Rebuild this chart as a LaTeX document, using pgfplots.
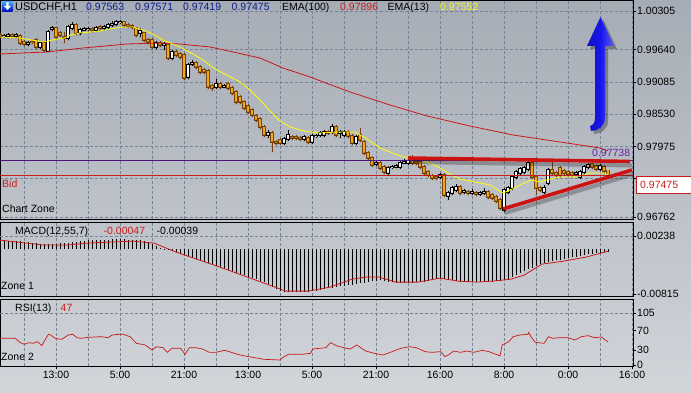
\documentclass[border=0pt]{standalone}
\usepackage{pgfplots}
\pgfplotsset{compat=1.18}
\usepackage{pgfplotstable}
\usepackage{fontspec}
\setmainfont{Liberation Sans}
\newcommand{\lf}{\fontsize{10.5}{12}\selectfont}
\definecolor{bgtop}{RGB}{166,172,181}
\definecolor{bgbot}{RGB}{210,213,218}
\definecolor{gridc}{RGB}{118,132,150}
\definecolor{cdn}{RGB}{242,168,20}
\definecolor{dnedge}{RGB}{120,66,14}
\definecolor{emaY}{RGB}{255,255,0}
\definecolor{emaR}{RGB}{200,24,24}
\definecolor{purp}{RGB}{76,20,128}
\definecolor{bidred}{RGB}{200,30,30}
\definecolor{trend}{RGB}{205,18,18}
\definecolor{ohlc}{RGB}{16,30,140}
\definecolor{arrowblue}{RGB}{22,22,238}
\definecolor{lbl}{RGB}{100,36,170}
\definecolor{ttlY}{RGB}{250,250,20}

\pgfplotsset{
  upc/.style={restrict expr to domain={\thisrow{d}}{0.5:1.5}},
  dnc/.style={restrict expr to domain={\thisrow{d}}{-0.5:0.5}},
  candle/.style={only marks, mark=*, mark size=0.01pt, mark options={draw=none, fill=none}, unbounded coords=discard},
  pane/.style={scale only axis, width=633pt, xmin=0, xmax=158.25,
    axis line style={black, line width=0.8pt},
    yticklabel pos=right, ytick pos=right, tick align=outside,
    major tick length=3pt, minor tick length=0pt,
    tick style={black, line width=0.6pt},
    ticklabel style={font=\lf},
    yticklabel style={anchor=west, inner sep=1pt},
    xtick={14,30,...,158}, minor xtick={6,22,...,150},
    xmajorgrids, xminorgrids,
    grid style={gridc, dash pattern=on 3pt off 2pt, line width=0.6pt},
    minor grid style={gridc, dash pattern=on 3pt off 2pt, line width=0.6pt},
    scaled y ticks=false, scaled x ticks=false,
  },
}

\pgfplotstableread{
i o h l c d
0 0.99892 0.99926 0.99840 0.99875 0
1 0.99875 0.99909 0.99840 0.99877 1
2 0.99875 0.99926 0.99840 0.99892 1
3 0.99892 0.99926 0.99840 0.99875 0
4 0.99875 0.99926 0.99840 0.99892 1
5 0.99875 0.99909 0.99720 0.99754 0
6 0.99772 0.99806 0.99703 0.99737 0
7 0.99737 0.99789 0.99703 0.99754 1
8 0.99772 0.99806 0.99737 0.99770 0
9 0.99806 0.99840 0.99651 0.99686 0
10 0.99686 0.99789 0.99651 0.99754 1
11 0.99754 0.99789 0.99600 0.99634 0
12 0.99617 0.99978 0.99600 0.99944 1
13 0.99995 1.00047 0.99961 1.00012 1
14 1.00012 1.00030 0.99823 0.99858 0
15 0.99926 0.99961 0.99858 0.99892 0
16 0.99858 0.99944 0.99754 0.99840 0
17 0.99840 1.00064 0.99806 1.00030 1
18 1.00012 1.00116 0.99978 1.00064 1
19 1.00064 1.00098 0.99892 0.99926 0
20 0.99926 1.00012 0.99892 0.99978 1
21 0.99978 1.00030 0.99961 0.99995 1
22 0.99995 1.00030 0.99961 0.99997 1
23 0.99995 1.00030 0.99944 0.99978 0
24 0.99978 1.00047 0.99961 1.00012 1
25 1.00030 1.00064 0.99978 1.00012 0
26 1.00012 1.00064 0.99978 1.00030 1
27 1.00030 1.00098 0.99995 1.00064 1
28 1.00064 1.00133 1.00030 1.00081 1
29 1.00081 1.00150 1.00047 1.00116 1
30 1.00116 1.00150 1.00081 1.00118 1
31 1.00116 1.00133 1.00030 1.00064 0
32 1.00064 1.00098 1.00012 1.00047 0
33 1.00047 1.00081 0.99995 1.00030 0
34 1.00012 1.00030 0.99858 0.99892 0
35 0.99926 1.00012 0.99858 0.99961 1
36 0.99926 0.99944 0.99772 0.99806 0
37 0.99806 0.99840 0.99737 0.99772 0
38 0.99806 0.99840 0.99651 0.99686 0
39 0.99686 0.99789 0.99651 0.99754 1
40 0.99754 0.99789 0.99686 0.99720 0
41 0.99720 0.99772 0.99634 0.99737 1
42 0.99720 0.99754 0.99462 0.99496 0
43 0.99496 0.99634 0.99462 0.99600 1
44 0.99600 0.99634 0.99514 0.99548 0
45 0.99565 0.99600 0.99479 0.99514 0
46 0.99548 0.99582 0.99118 0.99152 0
47 0.99170 0.99410 0.99135 0.99376 1
48 0.99393 0.99462 0.99359 0.99410 1
49 0.99410 0.99445 0.99307 0.99342 0
50 0.99342 0.99376 0.99221 0.99256 0
51 0.99290 0.99324 0.99221 0.99256 0
52 0.99273 0.99307 0.98963 0.98998 0
53 0.99015 0.99049 0.98929 0.98980 0
54 0.98998 0.99135 0.98963 0.99049 1
55 0.99049 0.99084 0.98963 0.98998 0
56 0.98998 0.99049 0.98980 0.99015 1
57 0.99049 0.99084 0.98946 0.98980 0
58 0.98980 0.99015 0.98860 0.98894 0
59 0.98912 0.98946 0.98705 0.98740 0
60 0.98826 0.98860 0.98705 0.98740 0
61 0.98740 0.98774 0.98602 0.98636 0
62 0.98671 0.98705 0.98533 0.98568 0
63 0.98602 0.98636 0.98482 0.98516 0
64 0.98499 0.98533 0.98396 0.98430 0
65 0.98447 0.98482 0.98275 0.98310 0
66 0.98310 0.98344 0.98138 0.98172 0
67 0.98172 0.98258 0.98120 0.98206 1
68 0.98206 0.98241 0.97880 0.98052 0
69 0.98052 0.98086 0.98000 0.98034 0
70 0.98086 0.98120 0.98000 0.98034 0
71 0.98034 0.98138 0.98000 0.98103 1
72 0.98103 0.98258 0.98069 0.98172 1
73 0.98138 0.98172 0.98086 0.98120 0
74 0.98138 0.98172 0.98086 0.98120 0
75 0.98120 0.98155 0.98069 0.98103 0
76 0.98103 0.98172 0.98069 0.98138 1
77 0.98120 0.98155 0.98017 0.98052 0
78 0.98052 0.98189 0.98017 0.98155 1
79 0.98155 0.98189 0.98120 0.98157 1
80 0.98172 0.98241 0.98138 0.98206 1
81 0.98172 0.98258 0.98138 0.98224 1
82 0.98224 0.98258 0.98172 0.98206 0
83 0.98224 0.98361 0.98189 0.98310 1
84 0.98310 0.98344 0.98138 0.98172 0
85 0.98206 0.98258 0.98120 0.98224 1
86 0.98172 0.98258 0.98138 0.98224 1
87 0.98224 0.98258 0.98120 0.98155 0
88 0.98155 0.98189 0.98000 0.98034 0
89 0.98034 0.98172 0.98000 0.98138 1
90 0.98172 0.98292 0.98052 0.98086 0
91 0.98052 0.98086 0.97828 0.97862 0
92 0.97862 0.97897 0.97742 0.97776 0
93 0.97776 0.97811 0.97622 0.97656 0
94 0.97673 0.97725 0.97639 0.97690 1
95 0.97690 0.97725 0.97570 0.97604 0
96 0.97622 0.97656 0.97501 0.97536 0
97 0.97518 0.97639 0.97484 0.97604 1
98 0.97622 0.97656 0.97587 0.97624 1
99 0.97622 0.97673 0.97604 0.97639 1
100 0.97622 0.97725 0.97587 0.97690 1
101 0.97690 0.97759 0.97673 0.97708 1
102 0.97690 0.97759 0.97656 0.97725 1
103 0.97776 0.97828 0.97656 0.97690 0
104 0.97708 0.97742 0.97656 0.97690 0
105 0.97708 0.97742 0.97587 0.97622 0
106 0.97622 0.97656 0.97484 0.97518 0
107 0.97536 0.97570 0.97450 0.97484 0
108 0.97467 0.97501 0.97398 0.97432 0
109 0.97450 0.97484 0.97398 0.97432 0
110 0.97450 0.97518 0.97415 0.97484 1
111 0.97484 0.97518 0.97106 0.97140 0
112 0.97123 0.97209 0.97054 0.97174 1
113 0.97174 0.97295 0.97140 0.97260 1
114 0.97226 0.97329 0.97192 0.97278 1
115 0.97278 0.97312 0.97140 0.97174 0
116 0.97192 0.97243 0.97157 0.97209 1
117 0.97192 0.97226 0.97140 0.97174 0
118 0.97174 0.97243 0.97140 0.97192 1
119 0.97174 0.97209 0.97123 0.97157 0
120 0.97157 0.97209 0.97123 0.97174 1
121 0.97174 0.97260 0.97140 0.97192 1
122 0.97192 0.97226 0.97071 0.97106 0
123 0.97140 0.97174 0.97054 0.97088 0
124 0.97106 0.97140 0.97002 0.97037 0
125 0.97054 0.97088 0.96882 0.96916 0
126 0.96882 0.97260 0.96848 0.97226 1
127 0.97192 0.97295 0.97157 0.97260 1
128 0.97260 0.97484 0.97226 0.97450 1
129 0.97450 0.97570 0.97415 0.97536 1
130 0.97518 0.97622 0.97484 0.97587 1
131 0.97536 0.97639 0.97501 0.97604 1
132 0.97587 0.97725 0.97553 0.97690 1
133 0.97690 0.97725 0.97415 0.97450 0
134 0.97450 0.97484 0.97140 0.97260 0
135 0.97260 0.97295 0.97192 0.97226 0
136 0.97192 0.97312 0.97157 0.97260 1
137 0.97346 0.97604 0.97312 0.97570 1
138 0.97570 0.97708 0.97484 0.97518 0
139 0.97518 0.97553 0.97450 0.97484 0
140 0.97604 0.97639 0.97450 0.97484 0
141 0.97553 0.97587 0.97484 0.97518 0
142 0.97536 0.97570 0.97467 0.97501 0
143 0.97518 0.97553 0.97450 0.97484 0
144 0.97501 0.97553 0.97467 0.97518 1
145 0.97450 0.97570 0.97415 0.97536 1
146 0.97536 0.97656 0.97501 0.97622 1
147 0.97622 0.97690 0.97587 0.97656 1
148 0.97673 0.97708 0.97587 0.97622 0
149 0.97639 0.97673 0.97553 0.97587 0
150 0.97587 0.97673 0.97553 0.97639 1
151 0.97622 0.97656 0.97518 0.97553 0
152 0.97563 0.97571 0.97419 0.97475 0
}\candles

\pgfplotstableread{
i v
0 0.00163
1 0.00160
2 0.00156
3 0.00153
4 0.00149
5 0.00145
6 0.00136
7 0.00127
8 0.00118
9 0.00109
10 0.00100
11 0.00091
12 0.00094
13 0.00098
14 0.00100
15 0.00104
16 0.00107
17 0.00114
18 0.00123
19 0.00131
20 0.00140
21 0.00149
22 0.00160
23 0.00163
24 0.00167
25 0.00169
26 0.00173
27 0.00174
28 0.00176
29 0.00180
30 0.00182
31 0.00178
32 0.00174
33 0.00171
34 0.00167
35 0.00163
36 0.00142
37 0.00120
38 0.00091
39 0.00054
40 0.00018
41 -0.00002
42 -0.00018
43 -0.00036
44 -0.00054
45 -0.00080
46 -0.00104
47 -0.00129
48 -0.00154
49 -0.00178
50 -0.00203
51 -0.00227
52 -0.00252
53 -0.00278
54 -0.00301
55 -0.00327
56 -0.00352
57 -0.00376
58 -0.00401
59 -0.00427
60 -0.00450
61 -0.00476
62 -0.00499
63 -0.00525
64 -0.00550
65 -0.00574
66 -0.00599
67 -0.00639
68 -0.00679
69 -0.00721
70 -0.00761
71 -0.00781
72 -0.00781
73 -0.00781
74 -0.00781
75 -0.00781
76 -0.00781
77 -0.00781
78 -0.00768
79 -0.00754
80 -0.00741
81 -0.00726
82 -0.00714
83 -0.00699
84 -0.00686
85 -0.00676
86 -0.00665
87 -0.00654
88 -0.00643
89 -0.00632
90 -0.00621
91 -0.00608
92 -0.00596
93 -0.00585
94 -0.00572
95 -0.00567
96 -0.00579
97 -0.00592
98 -0.00605
99 -0.00617
100 -0.00616
101 -0.00612
102 -0.00610
103 -0.00607
104 -0.00605
105 -0.00601
106 -0.00596
107 -0.00577
108 -0.00561
109 -0.00543
110 -0.00527
111 -0.00539
112 -0.00554
113 -0.00567
114 -0.00579
115 -0.00592
116 -0.00599
117 -0.00599
118 -0.00599
119 -0.00599
120 -0.00599
121 -0.00599
122 -0.00594
123 -0.00588
124 -0.00581
125 -0.00574
126 -0.00568
127 -0.00554
128 -0.00514
129 -0.00476
130 -0.00436
131 -0.00403
132 -0.00370
133 -0.00336
134 -0.00303
135 -0.00271
136 -0.00247
137 -0.00232
138 -0.00220
139 -0.00205
140 -0.00191
141 -0.00176
142 -0.00163
143 -0.00149
144 -0.00136
145 -0.00122
146 -0.00109
147 -0.00096
148 -0.00082
149 -0.00071
150 -0.00065
151 -0.00060
152 -0.00047
}\macdhist

\begin{document}
\begin{tikzpicture}
\useasboundingbox (0pt,0pt) rectangle (691pt,393pt);
\shade[top color=bgtop, bottom color=bgbot] (0pt,0pt) rectangle (691pt,393pt);

% ---------------- main price pane ----------------
\begin{axis}[pane, at={(0pt,174pt)}, anchor=south west, height=219pt,
  ymin=0.96727, ymax=1.00494, ymajorgrids,
  ytick={0.96762,0.97420,0.97975,0.98530,0.99085,0.99640,1.00305},
  yticklabels={0.96762,{},0.97975,0.98530,0.99085,0.99640,1.00305},
  xticklabels={}, xtick style={draw=none}]
% wicks
\addplot[candle, upc, error bars/.cd, y dir=plus, y explicit, error mark=none,
  error bar style={draw=black, line width=0.7pt}]
  table[x=i, y=l, y error plus expr=\thisrow{h}-\thisrow{l}] {\candles};
\addplot[candle, dnc, error bars/.cd, y dir=plus, y explicit, error mark=none,
  error bar style={draw=dnedge, line width=0.7pt}]
  table[x=i, y=l, y error plus expr=\thisrow{h}-\thisrow{l}] {\candles};
% bodies up
\addplot[candle, upc, error bars/.cd, y dir=plus, y explicit, error mark=none,
  error bar style={draw=black, line width=3.2pt, shorten <=-0.6pt, shorten >=-0.6pt}]
  table[x=i, y=o, y error plus expr=\thisrow{c}-\thisrow{o}] {\candles};
\addplot[candle, upc, error bars/.cd, y dir=plus, y explicit, error mark=none,
  error bar style={draw=white, line width=1.9pt}]
  table[x=i, y=o, y error plus expr=\thisrow{c}-\thisrow{o}] {\candles};
% bodies down
\addplot[candle, dnc, error bars/.cd, y dir=plus, y explicit, error mark=none,
  error bar style={draw=dnedge, line width=3.2pt, shorten <=-0.6pt, shorten >=-0.6pt}]
  table[x=i, y=c, y error plus expr=\thisrow{o}-\thisrow{c}] {\candles};
\addplot[candle, dnc, error bars/.cd, y dir=plus, y explicit, error mark=none,
  error bar style={draw=cdn, line width=1.9pt}]
  table[x=i, y=c, y error plus expr=\thisrow{o}-\thisrow{c}] {\candles};
% EMA(100)
\addplot[emaR, line width=0.8pt] coordinates {
(0,0.99565) (11.75,0.99600) (20.75,0.99668) (31.75,0.99737) (40,0.99754) (45,0.99737)
(52.5,0.99686) (58.25,0.99600) (65,0.99496) (70.75,0.99324) (77.5,0.99170) (87.5,0.98912)
(97.5,0.98688) (106.75,0.98499) (117.5,0.98327) (128.25,0.98172) (140,0.98052)
(150,0.97948) (152,0.97897)};
% EMA(13)
\addplot[emaY, line width=0.8pt] coordinates {
(0,0.99858) (5,0.99840) (10.75,0.99772) (12,0.99789) (14.25,0.99823) (16.25,0.99840)
(17.5,0.99892) (20,0.99926) (25,0.99961) (27.5,0.99995) (30.75,1.00030) (33.25,1.00030)
(35.75,0.99978) (38.25,0.99909) (40.75,0.99806) (45,0.99686) (50,0.99496) (54.25,0.99290)
(60,0.99084) (62.5,0.98946) (65,0.98774) (67.5,0.98585) (70,0.98413) (72.5,0.98310)
(75,0.98258) (77.5,0.98224) (80,0.98206) (85,0.98224) (88.75,0.98224) (90,0.98172)
(92.5,0.98069) (95,0.97948) (97.5,0.97880) (100,0.97811) (102.5,0.97776) (105,0.97742)
(107.5,0.97690) (110,0.97604) (112.5,0.97501) (115,0.97415) (120,0.97346) (122.5,0.97312)
(124,0.97243) (125.75,0.97174) (127.5,0.97226) (130,0.97312) (131.75,0.97364) (133,0.97398)
(135,0.97364) (137.5,0.97415) (140,0.97450) (142.5,0.97450) (145,0.97467) (147.5,0.97518)
(150,0.97518) (151.25,0.97518) (152,0.97467)};
% price lines
\draw[purp, line width=0.8pt] (axis cs:0,0.97738) -- (axis cs:158.25,0.97738);
\draw[bidred, line width=0.8pt] (axis cs:0,0.97475) -- (axis cs:158.25,0.97475);
% trend lines with shadows
\draw[black, opacity=0.25, line width=4pt, xshift=2pt, yshift=-4pt] (axis cs:102,0.97776) -- (axis cs:157.5,0.97716);
\draw[black, opacity=0.25, line width=4pt, xshift=2pt, yshift=-4pt] (axis cs:125.75,0.96899) -- (axis cs:158,0.97570);
\draw[trend, line width=3.6pt] (axis cs:102,0.97776) -- (axis cs:157.5,0.97716);
\draw[trend, line width=3.6pt] (axis cs:125.75,0.96899) -- (axis cs:158,0.97570);
\end{axis}

% ---------------- MACD pane ----------------
\begin{axis}[pane, at={(0pt,97pt)}, anchor=south west, height=74pt,
  ymin=-0.00851, ymax=0.00492,
  ytick={-0.00815,0.00238}, yticklabels={-0.00815,0.00238},
  xticklabels={}, xtick style={draw=none}]
\draw[gridc, dash pattern=on 3pt off 2pt, line width=0.6pt] (axis cs:0,0.00238) -- (axis cs:158.25,0.00238);
\addplot[ycomb, black, line width=0.6pt] table[x=i, y=v] {\macdhist};
\addplot[emaR, line width=0.8pt] coordinates {
(0,0.00163) (11,0.00073) (16.5,0.00073) (22,0.00109) (33,0.00145) (38.5,0.00109)
(44,-0.00054) (55,-0.00327) (66,-0.00617) (71.5,-0.00763) (77,-0.00763) (82.5,-0.00690)
(88,-0.00545) (91.5,-0.00508) (94.75,-0.00508) (99,-0.00599) (104.5,-0.00599)
(110,-0.00527) (114.5,-0.00581) (119,-0.00599) (123.25,-0.00581) (127.75,-0.00545)
(131,-0.00472) (135.5,-0.00272) (141,-0.00218) (146.5,-0.00145) (152,-0.00039)};
\end{axis}

% ---------------- RSI pane ----------------
\begin{axis}[pane, at={(0pt,27pt)}, anchor=south west, height=67pt,
  ymin=-2, ymax=134,
  ytick={0,30,70,105}, yticklabels={0,30,70,105},
  xticklabels={13:00,5:00,21:00,13:00,5:00,21:00,16:00,8:00,0:00,16:00},
  xtick pos=bottom, xticklabel style={inner sep=2pt}]
\draw[gridc, dash pattern=on 3pt off 2pt, line width=0.6pt] (axis cs:0,105) -- (axis cs:158.25,105);
\addplot[emaR, line width=0.7pt] coordinates {
(0,54.2) (3.85,54.2) (4.96,46.0) (6.06,42.0) (7.16,45.4) (8.26,44.0) (9.36,47.4) (10.46,39.3)
(11.01,47.4) (12.11,62.3) (12.67,60.9) (13.77,54.2) (15.42,52.1) (17.07,60.9) (18.17,62.3)
(19.27,55.5) (20.37,54.2) (22.03,56.2) (25.33,57.5) (26.98,55.5) (28.08,60.9) (29.74,62.3)
(30.84,62.3) (32.49,57.5) (34.14,44.0) (36.34,40.6) (38.00,30.5) (39.10,37.2) (40.75,35.2)
(41.85,25.7) (42.95,33.9) (45.15,33.9) (46.26,21.7) (47.36,35.2) (49.01,35.2) (50.66,32.5)
(52.31,25.7) (53.96,25.7) (56.17,29.8) (57.27,27.1) (60.02,20.3) (62.22,16.9) (66.08,11.5)
(69.93,10.2) (71.04,16.9) (72.14,21.7) (75.44,21.7) (77.64,23.7) (78.19,32.5) (81.50,35.2)
(82.60,45.4) (84.25,38.6) (85.90,35.2) (87.56,32.5) (89.21,40.6) (91.41,28.4) (93.61,23.7)
(95.81,20.3) (98.02,27.1) (100.22,33.9) (102.42,37.2) (104.07,35.2) (106.28,27.1)
(107.93,25.7) (110.13,27.1) (111.23,16.9) (112.33,21.7) (113.44,28.4) (115.09,25.7)
(116.74,28.4) (118.39,25.7) (120.59,29.8) (122.25,27.1) (124.45,20.3) (125.00,18.9)
(125.55,40.6) (127.20,47.4) (128.30,57.5) (129.96,60.9) (131.94,62.3) (132.16,66.3)
(132.71,57.5) (133.81,46.0) (136.01,44.0) (137.11,57.5) (138.22,54.2) (139.87,55.5)
(142.07,55.5) (143.72,50.8) (145.37,57.5) (147.03,59.6) (148.68,55.5) (150.33,56.9)
(151.98,47.0)};
\end{axis}

% ---------------- overlays (1pt = 1px) ----------------
\begin{scope}[x=1pt, y=1pt]
% title
\shade[top color=blue!45!cyan!70!white, bottom color=blue!70!black, rounded corners=1pt] (2,381) rectangle (13,392);
\fill[white] (7.5,383) -- (4,387) -- (6.4,387) -- (6.4,390.5) -- (8.6,390.5) -- (8.6,387) -- (11,387) -- cycle;
\node[anchor=base west, inner sep=0pt, font=\fontsize{11}{13}\selectfont] at (15,382.3) {USDCHF,H1};
\node[anchor=base west, inner sep=0pt, font=\lf, text=ohlc] at (86,382.3) {0.97563};
\node[anchor=base west, inner sep=0pt, font=\lf, text=ohlc] at (135,382.3) {0.97571};
\node[anchor=base west, inner sep=0pt, font=\lf, text=ohlc] at (183,382.3) {0.97419};
\node[anchor=base west, inner sep=0pt, font=\lf, text=ohlc] at (231.5,382.3) {0.97475};
\node[anchor=base west, inner sep=0pt, font=\lf] at (282,382.3) {EMA(100)};
\node[anchor=base west, inner sep=0pt, font=\lf, text=bidred] at (340,382.3) {0.97896};
\node[anchor=base west, inner sep=0pt, font=\lf] at (387.5,382.3) {EMA(13)};
\node[anchor=base west, inner sep=0pt, font=\lf, text=ttlY] at (440,382.3) {0.97552};
% pane labels
\node[anchor=base west, inner sep=0pt, font=\lf, text=bidred] at (2,205) {Bid};
\node[anchor=base west, inner sep=0pt, font=\lf] at (2,180) {Chart Zone};
\node[anchor=base west, inner sep=0pt, font=\lf] at (15,158.5) {MACD(12,55,7)};
\node[anchor=base west, inner sep=0pt, font=\lf, text=bidred] at (103.5,158.5) {-0.00047};
\node[anchor=base west, inner sep=0pt, font=\lf] at (156.5,158.5) {-0.00039};
\node[anchor=base west, inner sep=0pt, font=\lf] at (1,103) {Zone 1};
\node[anchor=base west, inner sep=0pt, font=\lf] at (15,81.3) {RSI(13)};
\node[anchor=base west, inner sep=0pt, font=\lf, text=bidred] at (60.5,81.3) {47};
\node[anchor=base west, inner sep=0pt, font=\lf] at (1,32.3) {Zone 2};
% labels on price lines
\node[anchor=base west, inner sep=0pt, font=\lf, text=lbl] at (592,236) {0.97738};
\draw[bidred, fill=white, line width=0.8pt] (636,200) rectangle (696,217);
\node[anchor=base west, inner sep=0pt, font=\lf, text=bidred] at (640,204.5) {0.97475};
% blue arrow with shadow
\fill[black, opacity=0.3, shift={(3,-3)}] (595,347) -- (587,347) -- (600.5,376) -- (614,347) -- (605,347) -- (605,275)
  .. controls (605,267) and (598,262) .. (591,262) -- (590,267) .. controls (594,268) and (595,271) .. (595,276) -- cycle;
\shade[left color=arrowblue!80!black, right color=arrowblue!70!white, middle color=arrowblue]
  (595,347) -- (587,347) -- (600.5,376) -- (614,347) -- (605,347) -- (605,275)
  .. controls (605,267) and (598,262) .. (591,262) -- (590,267) .. controls (594,268) and (595,271) .. (595,276) -- cycle;
\end{scope}
\end{tikzpicture}
\end{document}
